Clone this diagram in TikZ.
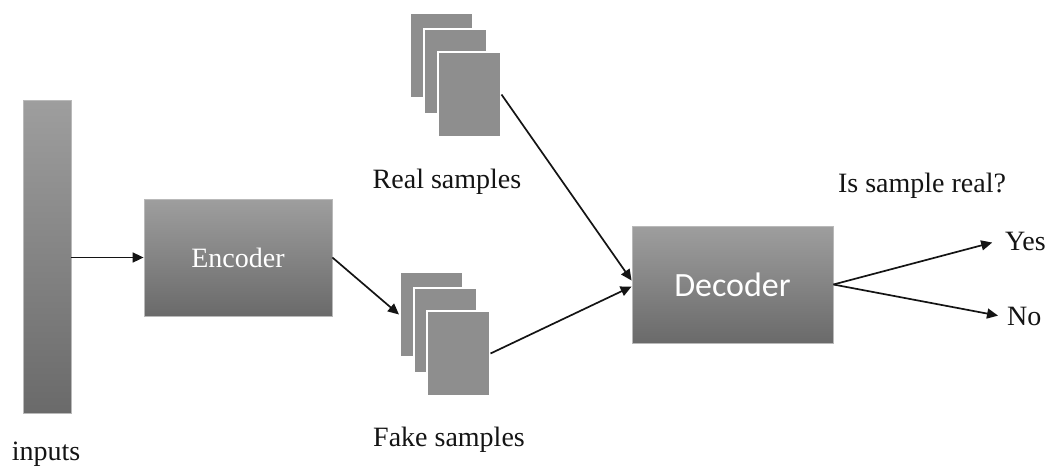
\documentclass[tikz,border=0pt]{standalone}
\usepackage{fontspec}
\setmainfont{Liberation Serif}
\newfontfamily\decfont{Carlito}
\usepackage{tikz}
\usetikzlibrary{arrows.meta}
\usepackage{xcolor}
\definecolor{boxtop}{RGB}{158,158,158}
\definecolor{boxbot}{RGB}{106,106,106}
\definecolor{sheet}{RGB}{142,142,142}
\definecolor{ink}{RGB}{20,20,20}

\begin{document}
\begin{tikzpicture}[x=0.5pt,y=-0.5pt,>={Triangle[length=5.5pt,width=5pt]},
  block/.style={draw=gray!55,line width=0.4pt,top color=boxtop,bottom color=boxbot,inner sep=0pt},
  sheetbox/.style={draw=white,line width=1pt,fill=sheet,minimum width=31.5pt,minimum height=42.5pt,inner sep=0pt},
  lbl/.style={text=ink,font=\fontsize{14}{16}\selectfont},
  conn/.style={->,line width=0.85pt,draw=ink}]
\useasboundingbox (0,0) rectangle (1050,467);
\node[block,minimum width=24pt,minimum height=156.5pt] (inp) at (47,256.5) {};
\node[block,minimum width=94pt,minimum height=58.5pt,text=white,font=\fontsize{14}{16}\selectfont] (enc) at (238,257.5) {Encoder};
\node[block,minimum width=100.5pt,minimum height=58.5pt,text=white,font=\decfont\fontsize{17}{20}\selectfont] (dec) at (732.5,284.5) {Decoder};
% real samples stack
\node[sheetbox] (r1) at (441.5,55.5) {};
\node[sheetbox] (r2) at (455,71) {};
\node[sheetbox] (r3) at (469,94.5) {};
% fake samples stack
\node[sheetbox] (f1) at (431.5,314.5) {};
\node[sheetbox] (f2) at (445.5,330) {};
\node[sheetbox] (f3) at (458,353.5) {};
\node[lbl] (inlbl) at (46,454) {inputs};
\node[lbl] (reallbl) at (447,182) {Real samples};
\node[lbl] (fakelbl) at (449,440) {Fake samples};
\node[lbl] (ask) at (922,186) {Is sample real?};
\node[lbl,anchor=west] (yes) at (998,241) {Yes};
\node[lbl,anchor=west] (no) at (1000,316) {No};
\draw[conn] (enc.west -| inp.east) -- (enc.west);
\draw[conn] (enc.east) -- (f1.west);
\draw[conn] (r3.east) -- ([yshift=2pt]dec.west);
\draw[conn] (f3.east) -- ([yshift=-1pt]dec.west);
\draw[conn,shorten >=3pt] (dec.east) -- (yes.west);
\draw[conn,shorten >=1pt] (dec.east) -- (no.west);
\end{tikzpicture}
\end{document}
